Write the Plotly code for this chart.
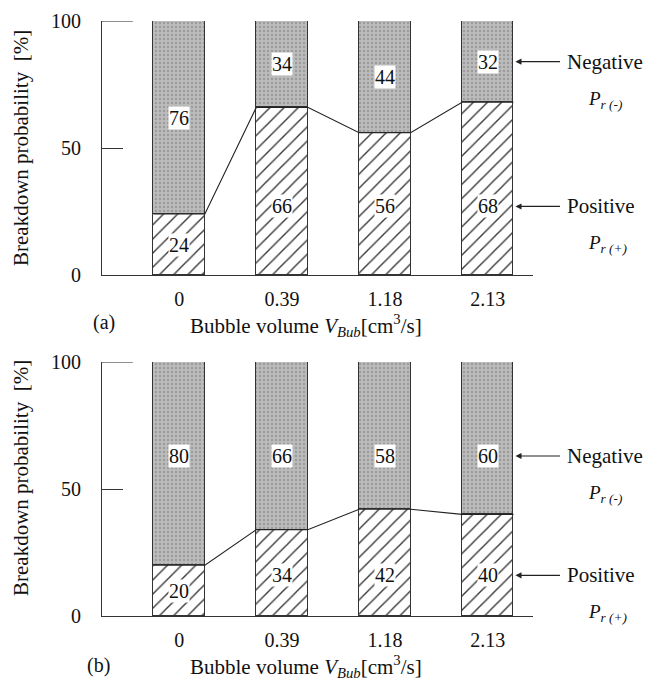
import plotly.graph_objects as go

# ---- data ----
bubble_volume = ["0", "0.39", "1.18", "2.13"]
positive_a = [24, 66, 56, 68]
negative_a = [76, 34, 44, 32]
positive_b = [20, 34, 42, 40]
negative_b = [80, 66, 58, 60]

FONT = "'Liberation Serif', 'Times New Roman', Times, serif"
INK = "#111111"
xs = list(range(len(bubble_volume)))
BAR_W = 0.5
XR = [-0.75, 3.44]

fig = go.Figure()

panels = [
    dict(pos=positive_a, neg=negative_a, xa="x", ya="y", dom=[1 - 275 / 680, 1 - 21 / 680],
         pos_cap=27, neg_cap=100, neg_floor=0, tag="(a)", tag_y=1 - 322 / 680, tag_x=104 / 648,
         title_y=1 - 325 / 680, ytitle_y=1 - 148 / 680),
    dict(pos=positive_b, neg=negative_b, xa="x2", ya="y2", dom=[1 - 616 / 680, 1 - 362 / 680],
         pos_cap=16, neg_cap=63, neg_floor=63, tag="(b)", tag_y=1 - 665 / 680, tag_x=98 / 648,
         title_y=1 - 666 / 680, ytitle_y=1 - 478 / 680),
]

annotations = []
shapes = []
for p in panels:
    # positive (hatched)
    fig.add_trace(go.Bar(
        x=xs, y=p["pos"], width=BAR_W, xaxis=p["xa"], yaxis=p["ya"],
        marker=dict(color="white", line=dict(color="#333", width=1.2),
                    pattern=dict(shape="/", bgcolor="white", fgcolor="#3a3a3a",
                                 size=10, solidity=0.14, fillmode="replace")),
        showlegend=False, hoverinfo="skip"))
    # negative (stippled)
    fig.add_trace(go.Bar(
        x=xs, y=p["neg"], width=BAR_W, xaxis=p["xa"], yaxis=p["ya"],
        marker=dict(color="#bcbcbc", line=dict(color="#333", width=1.2),
                    pattern=dict(shape=".", bgcolor="#bcbcbc", fgcolor="#9c9c9c",
                                 size=4, solidity=0.3, fillmode="replace")),
        showlegend=False, hoverinfo="skip"))
    # connecting line over positive tops
    lx, ly = [], []
    for i, v in zip(xs, p["pos"]):
        lx += [i - BAR_W / 2, i + BAR_W / 2]
        ly += [v, v]
    fig.add_trace(go.Scatter(x=lx, y=ly, mode="lines", xaxis=p["xa"], yaxis=p["ya"],
                             line=dict(color="#222", width=1.1),
                             showlegend=False, hoverinfo="skip"))
    # value labels
    pos_ys, neg_ys = [], []
    for i, (a, b) in enumerate(zip(p["pos"], p["neg"])):
        py = min(a / 2, p["pos_cap"])
        ny = max(min(a + b / 2, p["neg_cap"]), p["neg_floor"])
        pos_ys.append(py)
        neg_ys.append(ny)
        for val, yy in ((a, py), (b, ny)):
            annotations.append(dict(x=i, y=yy, xref=p["xa"], yref=p["ya"], text=str(val),
                                    xanchor="center", yanchor="middle",
                                    showarrow=False, bgcolor="white", borderpad=0,
                                    font=dict(family=FONT, size=20, color=INK)))
    # arrows + labels on the right
    for yy, word, sub in ((neg_ys[-1], "Negative", "r (-)"), (pos_ys[-1], "Positive", "r (+)")):
        annotations.append(dict(x=xs[-1] + BAR_W / 2, y=yy, xref=p["xa"], yref=p["ya"], text="",
                                showarrow=True, arrowhead=2, arrowsize=1.1, arrowwidth=1.1,
                                arrowcolor="#222", ax=48, ay=0, standoff=2))
        annotations.append(dict(x=565 / 648, y=yy, xref="paper", yref=p["ya"], text=word,
                                xanchor="left", yanchor="middle", showarrow=False,
                                font=dict(family=FONT, size=21, color=INK)))
        annotations.append(dict(x=586 / 648, y=yy, xref="paper", yref=p["ya"], yshift=-38,
                                text="<i>P</i><sub><i>" + sub + "</i></sub>",
                                xanchor="left", yanchor="middle", showarrow=False,
                                font=dict(family=FONT, size=19, color=INK)))
    # panel tag, axis titles
    annotations.append(dict(x=p["tag_x"], y=p["tag_y"], xref="paper", yref="paper", text=p["tag"],
                            xanchor="center", yanchor="middle",
                            showarrow=False, font=dict(family=FONT, size=20, color=INK)))
    annotations.append(dict(x=306 / 648, y=p["title_y"], xref="paper", yref="paper",
                            text="Bubble volume <i>V</i><sub><i>Bub</i></sub>[cm<sup>3</sup>/s]",
                            xanchor="center", yanchor="middle",
                            showarrow=False, font=dict(family=FONT, size=21, color=INK)))
    annotations.append(dict(x=21 / 648, y=p["ytitle_y"], xref="paper", yref="paper",
                            text="Breakdown probability&nbsp;&nbsp;[%]", textangle=-90,
                            xanchor="center", yanchor="middle",
                            showarrow=False, font=dict(family=FONT, size=21, color=INK)))
    # longer tick at 100
    shapes.append(dict(type="line", xref=p["xa"], yref=p["ya"], x0=XR[0], x1=XR[0] + 0.30,
                       y0=100, y1=100, line=dict(color="#333", width=1.1)))

xdom = [102 / 648, 533 / 648]
axis_common_x = dict(range=XR, domain=xdom, showline=True, linecolor="#333", linewidth=1.2,
                     tickvals=xs, ticktext=bubble_volume, ticks="", showgrid=False,
                     zeroline=False, tickfont=dict(family=FONT, size=20, color=INK),
                     ticklabelstandoff=6, fixedrange=True, automargin=False)
axis_common_y = dict(range=[0, 100], showline=True, linecolor="#333", linewidth=1.2,
                     tickvals=[0, 50, 100], ticks="inside", ticklen=21, tickcolor="#333",
                     tickwidth=1.1, showgrid=False, zeroline=False,
                     tickfont=dict(family=FONT, size=20, color=INK), ticklabelstandoff=16,
                     fixedrange=True, automargin=False)

fig.update_layout(
    width=648, height=680, margin=dict(l=0, r=0, t=0, b=0, pad=0, autoexpand=False),
    paper_bgcolor="white", plot_bgcolor="white", barmode="stack", bargap=0,
    font=dict(family=FONT, color=INK),
    xaxis=dict(axis_common_x, anchor="y"),
    yaxis=dict(axis_common_y, domain=panels[0]["dom"], anchor="x"),
    xaxis2=dict(axis_common_x, anchor="y2"),
    yaxis2=dict(axis_common_y, domain=panels[1]["dom"], anchor="x2"),
    annotations=annotations, shapes=shapes,
)

fig.write_html("out.html")
